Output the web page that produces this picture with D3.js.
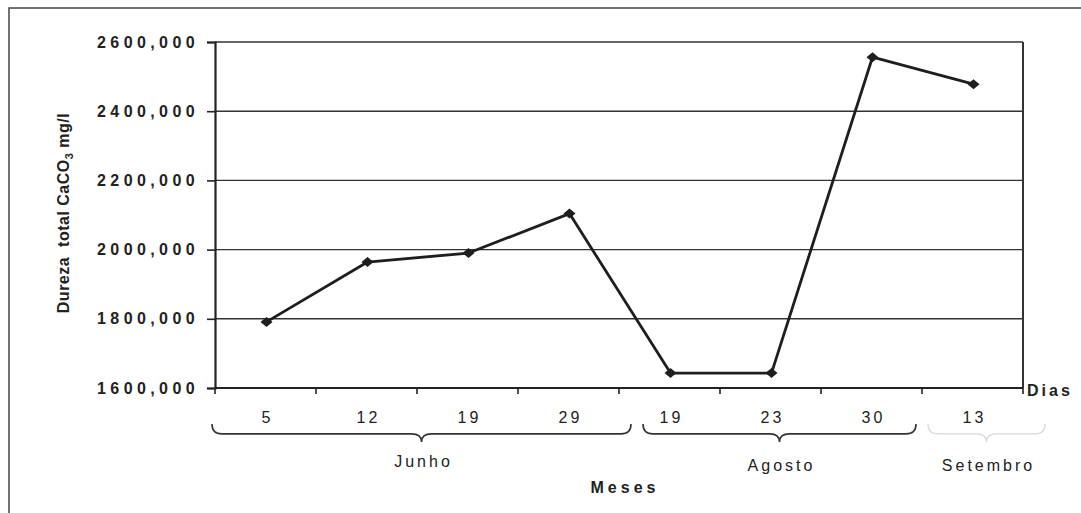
<!DOCTYPE html>
<html>
<head>
<meta charset="utf-8">
<script src="https://cdn.jsdelivr.net/npm/d3@7"></script>
<style>
  html, body { margin: 0; padding: 0; background: #fff; }
  svg { display: block; }
  text { font-family: "Liberation Sans", Arial, sans-serif; fill: #222; }
</style>
</head>
<body>
<svg id="chart" width="1081" height="513"></svg>
<script>
// Sampling days (x categories) and the month each belongs to
const days = ["5", "12", "19", "29", "19", "23", "30", "13"];
const dayMonth = [0, 0, 0, 0, 1, 1, 1, 2];
const months = ["Junho", "Agosto", "Setembro"];
// Total hardness, CaCO3 mg/l
const hardness = [1791, 1964, 1990, 2104, 1643, 1643, 2556, 2478];
// Y axis ticks
const yTicks = [1600, 1800, 2000, 2200, 2400, 2600];

const svg = d3.select("#chart");
const W = 1081, H = 513;
const plot = { left: 215, right: 1023, top: 42, bottom: 388 };

// Outer frame (top and left edges)
svg.append("path")
  .attr("d", `M9,${H} L9,8 L${W},8`)
  .attr("fill", "none").attr("stroke", "#444").attr("stroke-width", 1.5);

const x = d3.scaleBand()
  .domain(d3.range(days.length))
  .range([plot.left, plot.right])
  .paddingInner(0).paddingOuter(0);

const y = d3.scaleLinear()
  .domain([d3.min(yTicks), d3.max(yTicks)])
  .range([plot.bottom, plot.top]);

// Horizontal gridlines
svg.append("g").selectAll("line")
  .data(yTicks.filter(v => v > d3.min(yTicks)))
  .join("line")
  .attr("x1", plot.left).attr("x2", plot.right)
  .attr("y1", d => y(d)).attr("y2", d => y(d))
  .attr("stroke", "#333").attr("stroke-width", 1.4);

// Right border of plot area
svg.append("line")
  .attr("x1", plot.right).attr("x2", plot.right)
  .attr("y1", plot.top).attr("y2", plot.bottom)
  .attr("stroke", "#333").attr("stroke-width", 2);

// Y axis
const yAxis = svg.append("g")
  .attr("transform", `translate(${plot.left},0)`)
  .call(d3.axisLeft(y).tickValues(yTicks).tickSize(8).tickPadding(8)
    .tickFormat(d => d3.format("d")(d) + ",000"));
yAxis.select(".domain").attr("stroke", "#222").attr("stroke-width", 2.2);
yAxis.selectAll(".tick line").attr("stroke", "#222").attr("stroke-width", 1.6);
yAxis.selectAll(".tick text")
  .attr("font-size", 16).attr("font-weight", "bold")
  .attr("letter-spacing", "4.4px").attr("fill", "#333")
  .style("font-family", "'Liberation Sans', Arial, sans-serif");

// X axis: ticks on category boundaries, labels centred in each band
const xAxisG = svg.append("g").attr("transform", `translate(0,${plot.bottom})`);
xAxisG.append("line")
  .attr("x1", plot.left).attr("x2", plot.right)
  .attr("stroke", "#222").attr("stroke-width", 2);
const bounds = d3.range(days.length + 1).map(i => i < days.length ? x(i) : x(days.length - 1) + x.bandwidth());
xAxisG.selectAll("line.tk").data(bounds).join("line").attr("class", "tk")
  .attr("x1", d => d).attr("x2", d => d).attr("y1", 0).attr("y2", 6)
  .attr("stroke", "#222").attr("stroke-width", 1.6);
xAxisG.selectAll("text.day").data(days).join("text").attr("class", "day")
  .attr("x", (d, i) => x(i) + x.bandwidth() / 2 + 2)
  .attr("y", 35)
  .attr("text-anchor", "middle")
  .attr("font-size", 16).attr("letter-spacing", "3px")
  .text(d => d);

// "Dias" label at end of x axis
svg.append("text")
  .attr("x", plot.right + 4).attr("y", plot.bottom + 8)
  .attr("font-size", 16).attr("font-weight", "bold").attr("letter-spacing", "3px")
  .text("Dias");

// Month braces and labels
function brace(x0, x1, yTop, h) {
  const xm = (x0 + x1) / 2, r = 10, ym = yTop + h * 0.55, yt = yTop + h;
  return `M${x0},${yTop} Q${x0},${ym} ${x0 + r},${ym} L${xm - r},${ym} Q${xm},${ym} ${xm},${yt}` +
         ` Q${xm},${ym} ${xm + r},${ym} L${x1 - r},${ym} Q${x1},${ym} ${x1},${yTop}`;
}
const groups = months.map((m, k) => {
  const idx = d3.range(days.length).filter(i => dayMonth[i] === k);
  return { name: m, start: x(idx[0]), end: x(idx[idx.length - 1]) + x.bandwidth(), k };
});
const braceInset = [[-3, 12], [24, -6], [6, 22]];
svg.append("g").selectAll("path").data(groups).join("path")
  .attr("d", g => brace(g.start + braceInset[g.k][0], g.end + braceInset[g.k][1], 424, 18))
  .attr("fill", "none")
  .attr("stroke", g => g.k === 2 ? "#d8d8d8" : "#333")
  .attr("stroke-width", g => g.k === 2 ? 1.2 : 1.6);
svg.append("g").selectAll("text").data(groups).join("text")
  .attr("x", g => (g.start + braceInset[g.k][0] + g.end + braceInset[g.k][1]) / 2 + 2)
  .attr("y", g => g.k === 0 ? 467 : 471)
  .attr("text-anchor", "middle")
  .attr("font-size", 16).attr("letter-spacing", "3px")
  .text(g => g.name);

// X axis title
svg.append("text")
  .attr("x", 625).attr("y", 493)
  .attr("text-anchor", "middle")
  .attr("font-size", 16).attr("font-weight", "bold").attr("letter-spacing", "4px")
  .text("Meses");

// Y axis title with subscript (double space kept)
const yt = svg.append("text")
  .attr("transform", "translate(69,213) rotate(-90)")
  .attr("text-anchor", "middle")
  .style("white-space", "pre")
  .attr("font-size", 16).attr("font-weight", "bold").attr("letter-spacing", "0.5px");
yt.append("tspan").text("Dureza  total CaCO");
yt.append("tspan").attr("font-size", 11).attr("dy", 4).text("3");
yt.append("tspan").attr("dy", -4).text(" mg/l");

// Data line and diamond markers
const cx = i => x(i) + x.bandwidth() / 2 + 1;
const line = d3.line().x((d, i) => cx(i)).y(d => y(d));
svg.append("path")
  .datum(hardness)
  .attr("d", line)
  .attr("fill", "none").attr("stroke", "#1e1e1e").attr("stroke-width", 2.8)
  .attr("stroke-linejoin", "round");
svg.append("g").selectAll("path").data(hardness).join("path")
  .attr("transform", (d, i) => `translate(${cx(i)},${y(d)})`)
  .attr("d", "M-6,0 L0,-5 L6,0 L0,5 Z")
  .attr("fill", "#1e1e1e");
</script>
</body>
</html>
